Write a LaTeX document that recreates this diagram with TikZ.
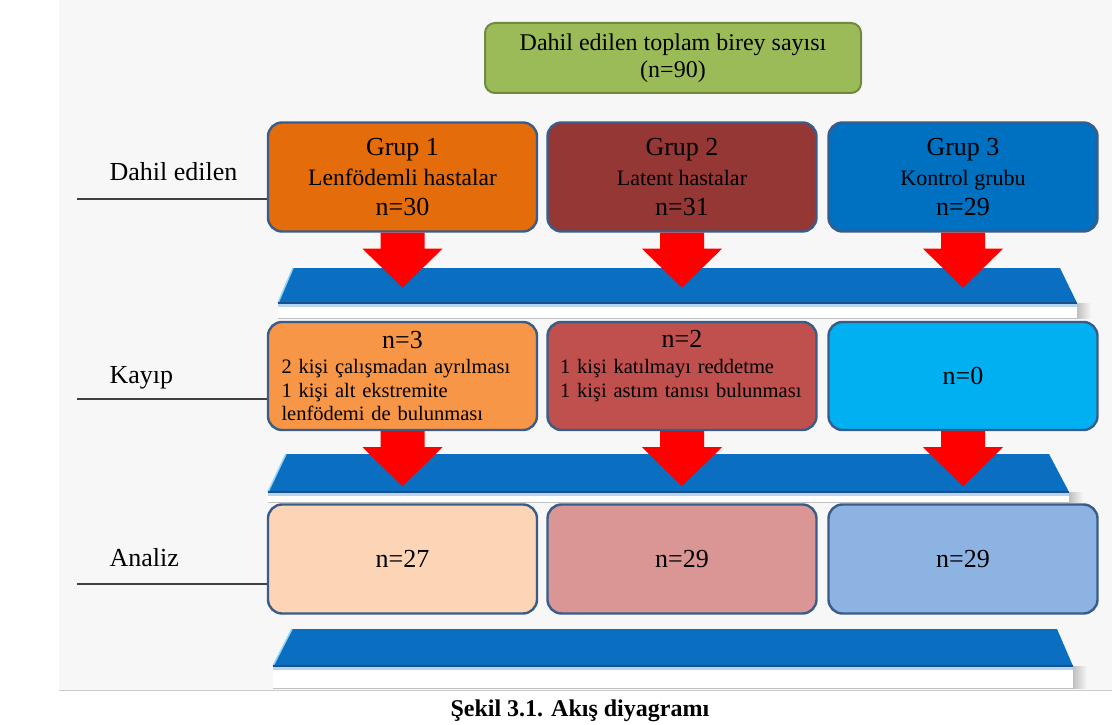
\documentclass[tikz,border=0pt]{standalone}
\usepackage{fontspec}
\setmainfont{Liberation Serif}
\usetikzlibrary{calc}
\definecolor{pagegray}{HTML}{F7F7F7}
\definecolor{greenfill}{HTML}{9BBB59}
\definecolor{greenedge}{HTML}{71893F}
\definecolor{boxedge}{HTML}{3A5C89}
\definecolor{gonefill}{HTML}{E46C0A}
\definecolor{gtwofill}{HTML}{953735}
\definecolor{gthreefill}{HTML}{0070C0}
\definecolor{lonefill}{HTML}{F79646}
\definecolor{ltwofill}{HTML}{C0504D}
\definecolor{lthreefill}{HTML}{00B0F0}
\definecolor{aonefill}{HTML}{FBD5B5}
\definecolor{atwofill}{HTML}{D99694}
\definecolor{athreefill}{HTML}{8DB3E2}
\definecolor{barblue}{HTML}{0A6FC1}
\definecolor{barlight}{HTML}{8FD3F5}
\definecolor{bardark}{HTML}{1F4E8C}
\definecolor{arrowred}{HTML}{FF0000}
\begin{document}
\begin{tikzpicture}[x=1pt, y=-1pt,
    box/.style = {draw=boxedge, line width=2.4pt, rounded corners=14pt, minimum width=269pt, minimum height=109pt, inner sep=0pt, align=center, text=black, font=\fontsize{26}{30}\selectfont},
    sidelabel/.style = {anchor=base west, font=\fontsize{26}{30}\selectfont},
    sideline/.style = {draw=black!75, line width=1.2pt}]
    \useasboundingbox (0,0) rectangle (1112,725);
    \fill[white] (0,0) rectangle (1112,725);
    \fill[pagegray] (59,0) rectangle (1112,690);
    \draw[black!20, line width=1pt] (59,690) -- (1112,690);
    % the three blue slabs
    \foreach \ya/\yb/\yc/\xa/\xb/\xc/\xd in {268/303/318/293/278/1060/1077, 454/492/502/286/268/1049/1069, 629/666/688/292/273/1057/1073}{
        \shade[left color=black!25, right color=pagegray] (\xd,\yb) rectangle (\xd+14,\yc);
        \fill[white] (\xb,\yb) rectangle (\xd,\yc);
        \fill[barblue!30] (\xb,\yb) rectangle (\xd,\yb+4);
        \draw[black!25] (\xb,\yc) -- (\xd,\yc);
        \fill[barblue] (\xa,\ya) -- (\xc,\ya) -- (\xd,\yb) -- (\xb,\yb) -- cycle;
        \draw[barlight, line width=1.5pt] (\xa,\ya) -- (\xb,\yb);
        \draw[bardark, line width=1.2pt] (\xb,\yb) -- (\xd,\yb);
    }
    \node (total) at (673,58) [box, draw=greenedge, fill=greenfill, minimum width=376pt, minimum height=70pt, rounded corners=10pt, line width=2pt, font=\fontsize{24}{27}\selectfont] {Dahil edilen toplam birey sayısı\\(n=90)};
    % Dahil edilen
    \node (g1) at (402.5,177) [box, fill=gonefill] {Grup 1\\{\fontsize{23.5}{30}\selectfont Lenfödemli hastalar}\\n=30};
    \node (g2) at (682,177) [box, fill=gtwofill] {Grup 2\\{\fontsize{22}{30}\selectfont Latent hastalar}\\n=31};
    \node (g3) at (963,177) [box, fill=gthreefill] {Grup 3\\{\fontsize{22}{30}\selectfont Kontrol grubu}\\n=29};
    % Kayip
    \node (l1) at (402.5,376) [box, fill=lonefill, minimum height=108pt, text width=242pt, align=left, font=\fontsize{20.5}{23.5}\selectfont] {\makebox[242pt]{\fontsize{26}{26}\selectfont n=3}\\[2pt]2 kişi çalışmadan ayrılması\\1 kişi alt ekstremite\\lenfödemi de bulunması};
    \node (l2) at (682,376) [box, fill=ltwofill, minimum height=108pt, text width=244pt, align=left, font=\fontsize{20.5}{24}\selectfont] {\makebox[244pt]{\fontsize{26}{26}\selectfont n=2}\\[2pt]1 kişi katılmayı reddetme\\1 kişi astım tanısı bulunması\\\mbox{}};
    \node (l3) at (963,376) [box, fill=lthreefill, minimum height=108pt] {n=0};
    % Analiz
    \node (a1) at (402.5,559) [box, fill=aonefill] {n=27};
    \node (a2) at (682,559) [box, fill=atwofill] {n=29};
    \node (a3) at (963,559) [box, fill=athreefill] {n=29};
    % red arrows
    \foreach \b in {g1,g2,g3,l1,l2,l3}{
        \fill[arrowred, shift={(\b.south)}] (-22,0) -- (22,0) -- (22,16) -- (40,16) -- (0,55) -- (-40,16) -- (-22,16) -- cycle;
    }
    % row labels
    \node (dahil) at (106,180) [sidelabel] {Dahil edilen};
    \node (kayip) at (106,383) [sidelabel] {Kayıp};
    \node (analiz) at (106,566) [sidelabel] {Analiz};
    \coordinate (dl) at (77,199);
    \coordinate (kl) at (77,399);
    \coordinate (al) at (77,584);
    \draw[sideline] (dl) -- (dl -| g1.west);
    \draw[sideline] (kl) -- (kl -| l1.west);
    \draw[sideline] (al) -- (al -| a1.west);
    \node (caption) at (447,716) [anchor=base west, font=\bfseries\fontsize{24}{28}\selectfont] {Şekil 3.1. Akış diyagramı};
\end{tikzpicture}
\end{document}
